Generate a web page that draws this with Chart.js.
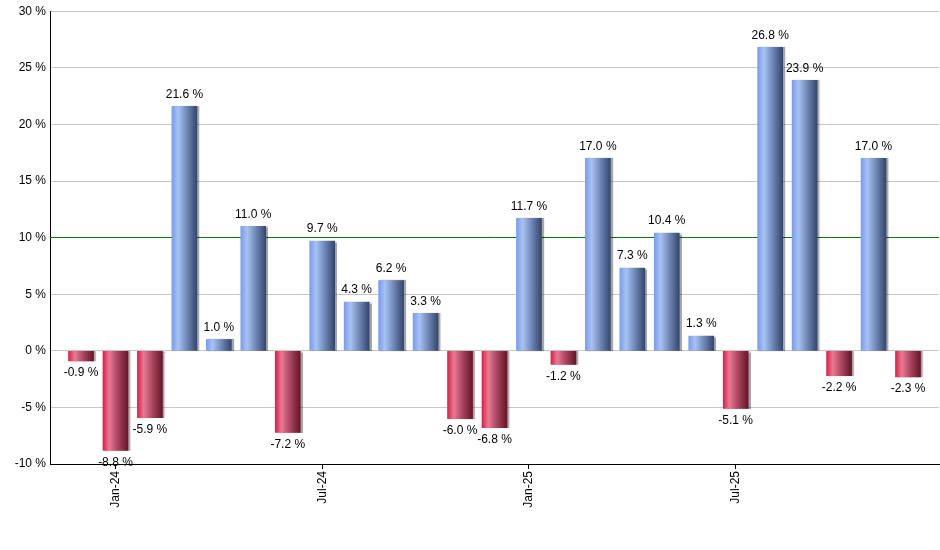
<!DOCTYPE html>
<html>
<head>
<meta charset="utf-8">
<script src="https://cdn.jsdelivr.net/npm/chart.js@4/dist/chart.umd.min.js"></script>
<style>
  html, body { margin: 0; padding: 0; background: #fff; }
  #wrap { width: 940px; height: 550px; }
</style>
</head>
<body>
<div id="wrap"><canvas id="c"></canvas></div>
<script>
// monthly returns, Dec-23 .. Dec-25
const months = ['Dec-23', 'Jan-24', 'Feb-24', 'Mar-24', 'Apr-24', 'May-24', 'Jun-24',
  'Jul-24', 'Aug-24', 'Sep-24', 'Oct-24', 'Nov-24', 'Dec-24',
  'Jan-25', 'Feb-25', 'Mar-25', 'Apr-25', 'May-25', 'Jun-25',
  'Jul-25', 'Aug-25', 'Sep-25', 'Oct-25', 'Nov-25', 'Dec-25'];
const returns = [-0.9, -8.8, -5.9, 21.6, 1.0, 11.0, -7.2,
  9.7, 4.3, 6.2, 3.3, -6.0, -6.8,
  11.7, -1.2, 17.0, 7.3, 10.4, 1.3,
  -5.1, 26.8, 23.9, -2.2, 17.0, -2.3];
const shownMonths = [1, 7, 13, 19];   // Jan-24, Jul-24, Jan-25, Jul-25
const yTicks = [-10, -5, 0, 5, 10, 15, 20, 25, 30];
const targetLine = 10;

const FONT = '"Liberation Sans", Arial, sans-serif';
const BAR_W = 25;

// gradient across each bar (light stripe left, dark right)
function barFill(ctx) {
  const chart = ctx.chart;
  const xs = chart.scales.x;
  const v = returns[ctx.dataIndex];
  const flat = v >= 0 ? '#7da3ef' : '#de1f48';
  if (!xs || ctx.dataIndex === undefined) return flat;
  const cx = xs.getPixelForValue(ctx.dataIndex);
  if (!isFinite(cx)) return flat;
  const g = chart.ctx.createLinearGradient(cx - BAR_W / 2, 0, cx + BAR_W / 2, 0);
  if (v >= 0) {
    g.addColorStop(0, '#779df0');
    g.addColorStop(0.25, '#a9c2f2');
    g.addColorStop(0.6, '#6f88b8');
    g.addColorStop(1, '#34466c');
  } else {
    g.addColorStop(0, '#de1f48');
    g.addColorStop(0.25, '#e87a93');
    g.addColorStop(0.6, '#a84560');
    g.addColorStop(1, '#661626');
  }
  return g;
}

// green reference line at 10 %, placed through the y scale
const targetRule = {
  id: 'targetRule',
  beforeDatasetsDraw(chart) {
    const { ctx, chartArea, scales } = chart;
    const p = scales.y.getPixelForValue(targetLine);
    const y = Math.round(p - 0.5) + 0.5;
    ctx.save();
    ctx.strokeStyle = '#008000';
    ctx.lineWidth = 1;
    ctx.beginPath();
    ctx.moveTo(chartArea.left, y);
    ctx.lineTo(chartArea.right, y);
    ctx.stroke();
    ctx.restore();
  }
};

const barShadow = {
  id: 'barShadow',
  beforeDatasetsDraw(chart) {
    const c = chart.ctx;
    c.save();
    c.shadowColor = 'rgba(0,0,0,0.35)';
    c.shadowOffsetX = 2;
    c.shadowOffsetY = 0;
    c.shadowBlur = 1;
  },
  afterDatasetsDraw(chart) {
    chart.ctx.restore();
  }
};

const valueLabels = {
  id: 'valueLabels',
  afterDatasetsDraw(chart) {
    const c = chart.ctx;
    const meta = chart.getDatasetMeta(0);
    c.save();
    c.font = '12px ' + FONT;
    c.fillStyle = '#000';
    c.textAlign = 'center';
    c.textBaseline = 'middle';
    meta.data.forEach((bar, i) => {
      const v = returns[i];
      const txt = v.toFixed(1) + ' %';
      const y = v >= 0 ? bar.y - 12 : bar.y + 12;
      c.fillText(txt, bar.x, y);
    });
    c.restore();
  }
};

new Chart(document.getElementById('c'), {
  type: 'bar',
  data: {
    datasets: [{
      data: returns.map((v, i) => ({ x: i, y: v })),
      backgroundColor: barFill,
      borderWidth: 0,
      barThickness: BAR_W
    }]
  },
  options: {
    responsive: true,
    maintainAspectRatio: false,
    animation: false,
    layout: { padding: { top: 10, right: 1, left: 0, bottom: 0 } },
    plugins: {
      legend: { display: false },
      tooltip: { enabled: false }
    },
    scales: {
      x: {
        type: 'linear',
        min: -0.9,
        max: 24.9,
        offset: false,
        afterBuildTicks(scale) {
          scale.ticks = shownMonths.map(v => ({ value: v }));
        },
        afterFit(scale) { scale.height = 86; },
        grid: {
          offset: false,
          drawOnChartArea: false,
          drawTicks: true,
          tickLength: 5,
          color: '#000'
        },
        border: { color: '#000', width: 1 },
        ticks: {
          autoSkip: false,
          minRotation: 90,
          maxRotation: 90,
          padding: 2,
          color: '#000',
          font: { family: FONT, size: 12 },
          callback: v => months[v]
        }
      },
      y: {
        min: -10,
        max: 30,
        afterBuildTicks(scale) {
          scale.ticks = yTicks.map(v => ({ value: v }));
        },
        afterFit(scale) { scale.width = 50; },
        grid: {
          drawTicks: false,
          color: ctx => (yTicks[ctx.index] === targetLine) ? 'rgba(0,0,0,0)' : '#c8c8c8',
          lineWidth: 1
        },
        border: { color: '#000', width: 1 },
        ticks: {
          padding: 4,
          color: '#000',
          font: { family: FONT, size: 12 },
          callback: v => v + ' %'
        }
      }
    }
  },
  plugins: [targetRule, barShadow, valueLabels]
});
</script>
</body>
</html>
